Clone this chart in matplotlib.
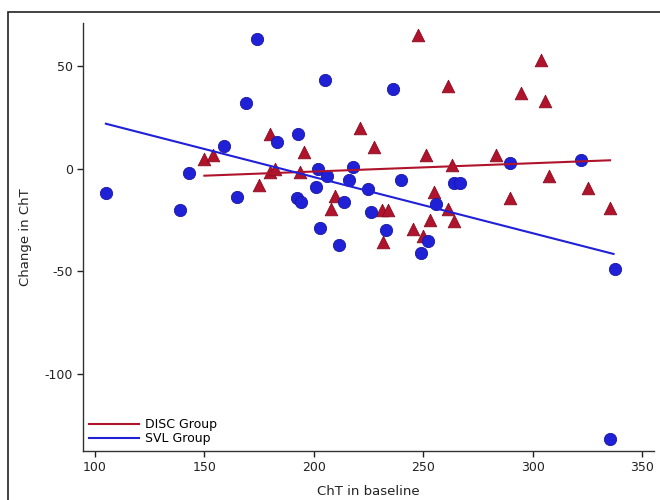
import numpy as np
import matplotlib
matplotlib.use("Agg")
import matplotlib.pyplot as plt
from matplotlib.patches import Rectangle

plt.rcParams["axes.unicode_minus"] = False

# SVL group (blue circles)
svl_x = [105, 139, 143, 159, 165, 169, 174, 183, 193, 192.5, 194, 202, 201, 203,
         205, 206, 218, 216, 240, 225, 214, 226, 264, 267, 256, 233, 252, 211.5,
         249, 236, 289.5, 322, 337.5, 335.5]
svl_y = [-12, -20, -2, 11, -14, 32, 63, 13, 17, -14.5, -16, 0, -9, -29,
         43, -3.5, 1, -5.5, -5.5, -10, -16, -21, -7, -7, -17, -30, -35, -37,
         -41, 39, 3, 4, -49, -131.5]

# DISC group (red triangles)
disc_x = [150, 154, 175, 180, 180, 182.5, 193.7, 195.5, 209.5, 207.7, 221, 227.5,
          231, 234, 231.7, 245.5, 247.5, 250, 251.5, 253, 255, 261.5, 261.5, 263,
          264, 283.3, 289.7, 294.7, 303.8, 305.5, 307.5, 325.5, 335.4]
disc_y = [4.5, 6.7, -8, 17, -1.7, -0.3, -1.7, 8, -13.3, -19.8, 20, 10.5,
          -20, -20, -35.5, -29.5, 65, -33, 6.7, -25, -11.2, 40.5, -19.5, 1.8,
          -25.3, 6.7, -14.4, 36.7, 53, 33, -3.5, -9.5, -19.3]

# fitted lines, endpoints
disc_fit_x = [150, 335.4]
disc_fit_y = [-3.4, 4.1]
svl_fit_x = [105, 337]
svl_fit_y = [21.9, -41.5]

xticks = [100, 150, 200, 250, 300, 350]
yticks = [-100, -50, 0, 50]

red = "#B0142C"
blue = "#2020D6"

fig = plt.figure(figsize=(6.6, 5.0), dpi=100)
ax = fig.add_axes([0.1253, 0.0974, 0.8656, 0.856])

# outer frame of the original figure (cropped at right and bottom)
fig.patches.append(Rectangle((8 / 660, -0.1), 1.2, 1 - 12 / 500 + 0.1,
                             transform=fig.transFigure, fill=False,
                             edgecolor="#222222", linewidth=1.2))

ax.scatter(disc_x, disc_y, marker="^", s=82, color=red,
           edgecolors="#8A0C20", linewidths=0.6, zorder=3)
ax.scatter(svl_x, svl_y, marker="o", s=78, color=blue,
           edgecolors="#1818A0", linewidths=0.6, zorder=3)

ax.plot(disc_fit_x, disc_fit_y, color=red, lw=1.5, label="DISC Group", zorder=4)
ax.plot(svl_fit_x, svl_fit_y, color=blue, lw=1.5, label="SVL Group", zorder=4)

ax.set_xlim(94.4, 355.5)
ax.set_ylim(-137.6, 70.8)
ax.set_xticks(xticks)
ax.set_yticks(yticks)
ax.tick_params(direction="out", length=4, width=1, colors="#222222",
               labelsize=9, pad=3)

for s in ["top", "right"]:
    ax.spines[s].set_visible(False)
for s in ["left", "bottom"]:
    ax.spines[s].set_color("#333333")
    ax.spines[s].set_linewidth(1.0)

ax.set_xlabel("ChT in baseline", fontsize=9.5, color="#222222", labelpad=8)
ax.set_ylabel("Change in ChT", fontsize=9.5, color="#222222", labelpad=9)

ax.legend(loc="lower left", frameon=False, fontsize=9, handlelength=4,
          handletextpad=0.5, labelspacing=0.05, borderpad=0.2,
          borderaxespad=0.3)

fig.savefig("out.png", dpi=100)
